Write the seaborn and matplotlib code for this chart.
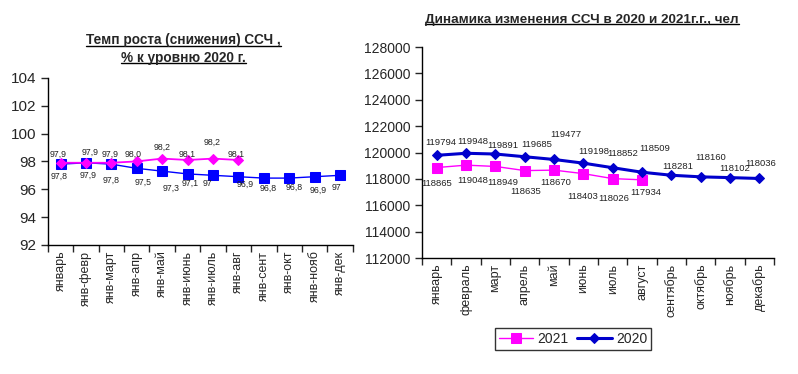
import numpy as np
import pandas as pd
import matplotlib
matplotlib.use("Agg")
import matplotlib.pyplot as plt
from matplotlib.lines import Line2D
import seaborn as sns

# left chart: growth rate vs 2020 level, %
periods = ['январь', 'янв-февр', 'янв-март', 'янв-апр', 'янв-май', 'янв-июнь',
           'янв-июль', 'янв-авг', 'янв-сент', 'янв-окт', 'янв-нояб', 'янв-дек']
rate_2020 = [97.8, 97.9, 97.8, 97.5, 97.3, 97.1, 97, 96.9, 96.8, 96.8, 96.9, 97]
rate_2021 = [97.9, 97.9, 97.9, 98.0, 98.2, 98.1, 98.2, 98.1]

# right chart: headcount by month
months = ['январь', 'февраль', 'март', 'апрель', 'май', 'июнь', 'июль', 'август',
          'сентябрь', 'октябрь', 'ноябрь', 'декабрь']
ssch_2020 = [119794, 119948, 119891, 119685, 119477, 119198, 118852, 118509,
             118281, 118160, 118102, 118036]
ssch_2021 = [118865, 119048, 118949, 118635, 118670, 118403, 118026, 117934]

# data label offsets in pixels (dx, dy; dy positive = downwards), as placed in the original
off_rate_2020 = [(-1, 12), (2, 13), (0, 16), (6, 14), (9, 17), (3, 9), (-5, 8), (7, 8),
                 (4, 10), (5, 9), (4, 14), (-4, 12)]
off_rate_2021 = [(-2, -8), (4, -10), (-1, -8), (-4, -7), (0, -11), (0, -6), (-1, -16), (-2, -6)]
off_ssch_2020 = [(4, -13), (7, -12), (7, -9), (12, -12), (12, -25), (10, -12), (10, -14),
                 (13, -24), (6, -9), (10, -19), (5, -9), (1, -15)]
off_ssch_2021 = [(0, 16), (7, 15), (7, 16), (1, 21), (2, 12), (-1, 23), (1, 20), (4, 13)]

BLUE = '#0000FF'
NAVY = '#0000CC'
MAGENTA = '#FF00FF'

sns.set_style("white")
plt.rcParams['font.family'] = ['Liberation Sans', 'DejaVu Sans']


def fmt_general(v):
    s = ('%.1f' % v).rstrip('0').rstrip('.')
    return s.replace('.', ',')


def fmt_one(v):
    return ('%.1f' % v).replace('.', ',')


def style_axis(ax, labels, ylim, ystep, ysize):
    n = len(labels)
    ax.set_xlim(-0.5, n - 0.5)
    ax.set_ylim(*ylim)
    ax.set_yticks(np.arange(ylim[0], ylim[1] + ystep, ystep))
    ax.set_xticks(np.arange(n + 1) - 0.5)
    ax.set_xticklabels([])
    ax.set_xticks(np.arange(n), minor=True)
    ax.set_xticklabels(labels, minor=True, rotation=90, fontsize=9)
    ax.tick_params(axis='x', which='major', direction='out', length=5, width=1, bottom=True)
    ax.tick_params(axis='x', which='minor', length=0, pad=4, bottom=True)
    ax.tick_params(axis='y', direction='out', length=5, width=1, labelsize=ysize, left=True)
    for s in ['top', 'right']:
        ax.spines[s].set_visible(False)
    for s in ['left', 'bottom']:
        ax.spines[s].set_color('black')
        ax.spines[s].set_linewidth(1)
    ax.set_xlabel('')
    ax.set_ylabel('')
    ax.grid(False)


def label_points(ax, values, fmt, offsets, size=6.3):
    # offsets come in pixels at 100 dpi -> points
    for i, v in enumerate(values):
        dx, dy = offsets[i]
        ax.annotate(fmt(v), (i, v), xytext=(dx * 0.72, -dy * 0.72),
                    textcoords='offset points', ha='center', va='center',
                    fontsize=size, color='#222222')


def underline(fig, txt):
    fig.canvas.draw()
    bb = txt.get_window_extent().transformed(fig.transFigure.inverted())
    fig.add_artist(Line2D([bb.x0, bb.x1], [bb.y0 + 0.004, bb.y0 + 0.004],
                          transform=fig.transFigure, color='black', lw=1))


fig = plt.figure(figsize=(7.98, 3.74), dpi=100)
fig.patch.set_facecolor('white')

# ---- left chart
ax1 = fig.add_axes([0.060, 0.345, 0.382, 0.447])
df_l20 = pd.DataFrame({'x': np.arange(len(rate_2020)), 'y': rate_2020})
df_l21 = pd.DataFrame({'x': np.arange(len(rate_2021)), 'y': rate_2021})
sns.lineplot(data=df_l20, x='x', y='y', ax=ax1, color=BLUE, linewidth=1,
             marker='s', markersize=6.5, markeredgecolor=BLUE)
sns.lineplot(data=df_l21, x='x', y='y', ax=ax1, color=MAGENTA, linewidth=1.3,
             marker='D', markersize=5.5, markeredgecolor=MAGENTA)
style_axis(ax1, periods, (92, 104), 2, 11)
label_points(ax1, rate_2021, fmt_one, off_rate_2021)
label_points(ax1, rate_2020, fmt_general, off_rate_2020)

t1 = fig.text(0.23, 0.893, 'Темп роста (снижения) ССЧ ,', ha='center', va='center',
              fontsize=9.8, fontweight='bold')
t2 = fig.text(0.23, 0.845, '% к уровню 2020 г.', ha='center', va='center',
              fontsize=9.8, fontweight='bold')

# ---- right chart
ax2 = fig.add_axes([0.529, 0.310, 0.441, 0.564])
df_r20 = pd.DataFrame({'x': np.arange(len(ssch_2020)), 'y': ssch_2020})
df_r21 = pd.DataFrame({'x': np.arange(len(ssch_2021)), 'y': ssch_2021})
sns.lineplot(data=df_r21, x='x', y='y', ax=ax2, color=MAGENTA, linewidth=1,
             marker='s', markersize=7, markeredgecolor=MAGENTA, label='2021')
sns.lineplot(data=df_r20, x='x', y='y', ax=ax2, color=NAVY, linewidth=2.2,
             marker='D', markersize=5.5, markeredgecolor=NAVY, label='2020')
style_axis(ax2, months, (112000, 128000), 2000, 10)
label_points(ax2, ssch_2020, lambda v: str(v), off_ssch_2020, 6.8)
label_points(ax2, ssch_2021, lambda v: str(v), off_ssch_2021, 6.8)
ax2.get_legend().remove()

t3 = fig.text(0.729, 0.947, 'Динамика изменения ССЧ в 2020 и 2021г.г., чел',
              ha='center', va='center', fontsize=9.7, fontweight='bold')

handles, labels = ax2.get_legend_handles_labels()
leg = fig.legend(handles, labels, loc='center', bbox_to_anchor=(0.718, 0.094),
                 ncol=2, fontsize=10, frameon=True, fancybox=False,
                 edgecolor='black', handlelength=2.5, columnspacing=0.6,
                 handletextpad=0.3, borderpad=0.3)
leg.get_frame().set_linewidth(1)

for t in (t1, t2, t3):
    underline(fig, t)

fig.savefig('out.png', dpi=100, facecolor='white')
